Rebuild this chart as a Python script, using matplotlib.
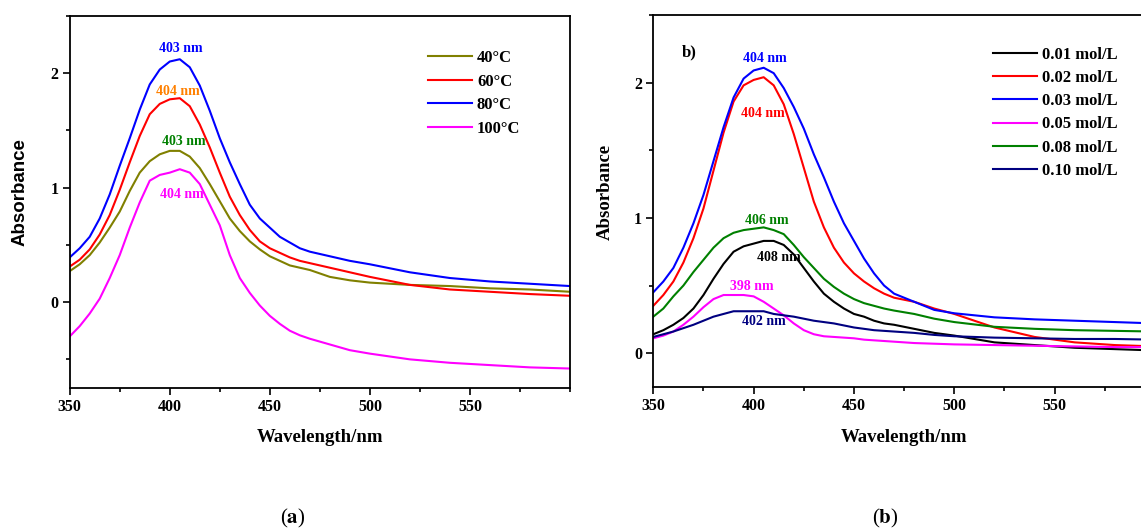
import matplotlib
matplotlib.use("Agg")
import matplotlib.pyplot as plt
from matplotlib.ticker import MultipleLocator

plt.rcParams["font.family"] = "serif"
plt.rcParams["font.serif"] = ["Liberation Serif", "DejaVu Serif"]
plt.rcParams["font.weight"] = "bold"
plt.rcParams["mathtext.fontset"] = "stix"

# =============================================================================
# DATA
# =============================================================================

# panel (a): temperature series
wl_a = [350, 355, 360, 365, 370, 375, 380, 385, 390, 395, 400, 405, 410, 415,
        420, 425, 430, 435, 440, 445, 450, 455, 460, 465, 470, 480, 490, 500,
        520, 540, 560, 580, 600]
abs_40 = [0.27, 0.33, 0.41, 0.52, 0.65, 0.79, 0.97, 1.13, 1.23, 1.29, 1.32, 1.32,
          1.27, 1.17, 1.03, 0.88, 0.73, 0.62, 0.53, 0.46, 0.40, 0.36, 0.32, 0.30,
          0.28, 0.22, 0.19, 0.17, 0.15, 0.14, 0.12, 0.11, 0.09]
abs_60 = [0.31, 0.37, 0.46, 0.59, 0.76, 0.98, 1.22, 1.45, 1.64, 1.73, 1.77, 1.78,
          1.71, 1.55, 1.35, 1.13, 0.92, 0.76, 0.63, 0.53, 0.47, 0.43, 0.39, 0.36,
          0.34, 0.30, 0.26, 0.22, 0.15, 0.11, 0.09, 0.07, 0.055]
abs_80 = [0.39, 0.47, 0.57, 0.73, 0.94, 1.19, 1.43, 1.68, 1.90, 2.03, 2.10, 2.12,
          2.05, 1.89, 1.67, 1.43, 1.22, 1.03, 0.85, 0.73, 0.65, 0.57, 0.52, 0.47,
          0.44, 0.40, 0.36, 0.33, 0.26, 0.21, 0.18, 0.16, 0.14]
abs_100 = [-0.30, -0.21, -0.10, 0.03, 0.21, 0.41, 0.65, 0.87, 1.06, 1.11, 1.13, 1.16,
           1.13, 1.03, 0.85, 0.67, 0.41, 0.21, 0.08, -0.03, -0.12, -0.19, -0.25, -0.29,
           -0.32, -0.37, -0.42, -0.45, -0.50, -0.53, -0.55, -0.57, -0.58]

labels_a = ["40\u00b0C", "60\u00b0C", "80\u00b0C", "100\u00b0C"]
colors_a = ["#808000", "#ff0000", "#0000ff", "#ff00ff"]

# peak annotations: (x, y, text, colour)
peaks_a = [
    (405.4, 2.21, "403 nm", "#0000ff"),
    (404.0, 1.84, "404 nm", "#ff8000"),
    (406.8, 1.40, "403 nm", "#008000"),
    (406.0, 0.94, "404 nm", "#ff00ff"),
]

# panel (b): concentration series
wl_b = wl_a
abs_001 = [0.14, 0.17, 0.21, 0.26, 0.33, 0.43, 0.55, 0.66, 0.75, 0.79, 0.81, 0.83,
           0.83, 0.80, 0.73, 0.63, 0.53, 0.44, 0.38, 0.33, 0.29, 0.27, 0.24, 0.22,
           0.21, 0.18, 0.15, 0.13, 0.08, 0.06, 0.04, 0.03, 0.02]
abs_002 = [0.35, 0.43, 0.53, 0.67, 0.85, 1.07, 1.35, 1.63, 1.86, 1.98, 2.02, 2.04,
           1.98, 1.84, 1.62, 1.37, 1.12, 0.93, 0.78, 0.67, 0.59, 0.53, 0.48, 0.44,
           0.41, 0.38, 0.33, 0.29, 0.19, 0.12, 0.08, 0.06, 0.05]
abs_003 = [0.45, 0.53, 0.63, 0.78, 0.96, 1.17, 1.42, 1.67, 1.89, 2.03, 2.09, 2.11,
           2.07, 1.96, 1.82, 1.66, 1.47, 1.30, 1.12, 0.96, 0.83, 0.70, 0.59, 0.50,
           0.44, 0.38, 0.32, 0.295, 0.265, 0.25, 0.24, 0.23, 0.22]
abs_005 = [0.11, 0.13, 0.16, 0.21, 0.27, 0.34, 0.40, 0.43, 0.43, 0.43, 0.42, 0.38,
           0.33, 0.28, 0.22, 0.17, 0.14, 0.125, 0.12, 0.115, 0.11, 0.10, 0.095, 0.09,
           0.085, 0.075, 0.07, 0.065, 0.06, 0.055, 0.05, 0.045, 0.045]
abs_008 = [0.27, 0.33, 0.42, 0.50, 0.60, 0.69, 0.78, 0.85, 0.89, 0.91, 0.92, 0.93,
           0.91, 0.88, 0.80, 0.71, 0.63, 0.55, 0.49, 0.44, 0.40, 0.37, 0.35, 0.33,
           0.315, 0.29, 0.255, 0.23, 0.195, 0.18, 0.17, 0.165, 0.16]
abs_010 = [0.12, 0.14, 0.16, 0.185, 0.21, 0.24, 0.27, 0.29, 0.31, 0.31, 0.31, 0.31,
           0.29, 0.28, 0.27, 0.255, 0.24, 0.23, 0.22, 0.205, 0.19, 0.18, 0.17, 0.165,
           0.16, 0.15, 0.135, 0.125, 0.115, 0.11, 0.105, 0.105, 0.10]

labels_b = ["0.01 mol/L", "0.02 mol/L", "0.03 mol/L",
            "0.05 mol/L", "0.08 mol/L", "0.10 mol/L"]
colors_b = ["#000000", "#ff0000", "#0000ff", "#ff00ff", "#008000", "#000080"]

peaks_b = [
    (405.4, 2.18, "404 nm", "#0000ff"),
    (404.4, 1.77, "404 nm", "#ff0000"),
    (406.7, 0.98, "406 nm", "#008000"),
    (412.4, 0.71, "408 nm", "#000000"),
    (399.2, 0.49, "398 nm", "#ff00ff"),
    (404.9, 0.235, "402 nm", "#000080"),
]

# =============================================================================
# PLOTTING
# =============================================================================

W, H = 1141, 529
fig = plt.figure(figsize=(W / 100, H / 100), dpi=100)


def px_axes(left, top, right, bottom):
    return fig.add_axes([left / W, 1 - bottom / H, (right - left) / W, (bottom - top) / H])


def style_axes(ax, ylim):
    ax.set_xlim(350, 600)
    ax.set_ylim(*ylim)
    ax.set_xticks([350, 400, 450, 500, 550])
    ax.xaxis.set_minor_locator(MultipleLocator(25))
    ax.yaxis.set_major_locator(MultipleLocator(1))
    ax.yaxis.set_minor_locator(MultipleLocator(0.5))
    ax.tick_params(which="both", direction="out", top=False, right=False,
                   labelsize=11.5, width=1.2)
    ax.tick_params(which="major", length=5, pad=3)
    ax.tick_params(which="minor", length=3)
    for sp in ax.spines.values():
        sp.set_linewidth(1.3)
    for lab in ax.get_xticklabels() + ax.get_yticklabels():
        lab.set_fontweight("bold")


ax_a = px_axes(69.7, 15.7, 570, 388)
series_a = [abs_40, abs_60, abs_80, abs_100]
for ys, lab, col in zip(series_a, labels_a, colors_a):
    ax_a.plot(wl_a, ys, color=col, lw=1.5, label=lab)
for x, y, txt, col in peaks_a:
    ax_a.text(x, y, txt, color=col, fontsize=10, fontweight="bold",
              ha="center", va="center")
style_axes(ax_a, (-0.75, 2.5))
ax_a.legend(loc="upper left", bbox_to_anchor=(0.716, 0.907), frameon=False,
            borderpad=0, borderaxespad=0, handlelength=2.64, handletextpad=0.3,
            labelspacing=0.45, prop={"family": "serif", "weight": "bold", "size": 12})

ax_b = px_axes(653.3, 15, 1155, 387)
series_b = [abs_001, abs_002, abs_003, abs_005, abs_008, abs_010]
for ys, lab, col in zip(series_b, labels_b, colors_b):
    ax_b.plot(wl_b, ys, color=col, lw=1.5, label=lab)
for x, y, txt, col in peaks_b:
    ax_b.text(x, y, txt, color=col, fontsize=10, fontweight="bold",
              ha="center", va="center")
ax_b.text(367.8, 2.22, "b)", fontsize=12, fontweight="bold", ha="center", va="center")
style_axes(ax_b, (-0.25, 2.5))
ax_b.legend(loc="upper left", bbox_to_anchor=(0.677, 0.914), frameon=False,
            borderpad=0, borderaxespad=0, handlelength=2.64, handletextpad=0.3,
            labelspacing=0.43, prop={"family": "serif", "weight": "bold", "size": 12})

# axis titles and panel captions in figure pixels
def fig_text(x, y, s, **kw):
    fig.text(x / W, 1 - y / H, s, ha="center", va="center", **kw)


fig_text(20, 192, "Absorbance", rotation=90, fontsize=13.5, fontweight="bold",
         family=["Liberation Sans", "DejaVu Sans"])
fig_text(605, 192, "Absorbance", rotation=90, fontsize=13.5, fontweight="bold")
fig_text(320, 438, "Wavelength/nm", fontsize=13.5, fontweight="bold")
fig_text(904, 438, "Wavelength/nm", fontsize=13.5, fontweight="bold")
fig_text(293, 518, r"($\mathbf{a}$)", fontsize=15, fontweight="normal")
fig_text(885, 518, r"($\mathbf{b}$)", fontsize=15, fontweight="normal")

fig.savefig("out.png", dpi=100)
